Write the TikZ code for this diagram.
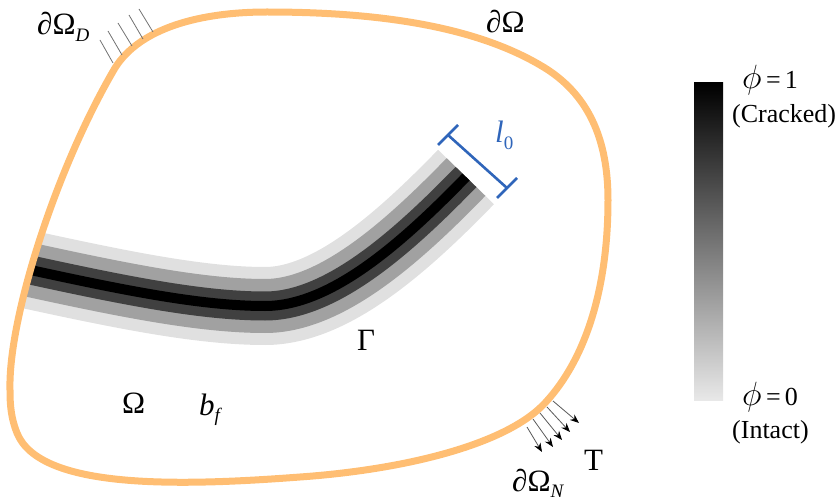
\documentclass[tikz,border=0pt]{standalone}
\usepackage[no-math]{fontspec}
\setmainfont{Liberation Serif}
\usepackage{graphicx}
\usetikzlibrary{arrows.meta,calc}
\definecolor{bnd}{RGB}{255,190,115}
\definecolor{lblue}{RGB}{47,101,186}
\newcommand{\mysub}[1]{\raisebox{-0.45ex}{\fontsize{19}{19}\selectfont #1}}
\newcommand{\myphi}{\scalebox{1.35}{$\phi$}}
\newcommand{\bndpath}{(10,390) .. controls (8,320) and (55,170) .. (115,68)
  .. controls (140,28) and (200,12) .. (267,12)
  .. controls (370,12) and (470,24) .. (540,65)
  .. controls (589,93) and (608,140) .. (608,200)
  .. controls (608,290) and (585,360) .. (545,403)
  .. controls (505,446) and (400,470) .. (300,477)
  .. controls (180,486) and (40,490) .. (17,433)
  .. controls (11,418) and (10,405) .. (10,390) -- cycle}
\begin{document}
\begin{tikzpicture}[x=1pt,y=-1pt,
  lbl/.style={inner sep=0pt, anchor=base west, font=\fontsize{31}{34}\selectfont},
  bar/.style={inner sep=0pt, anchor=base west, font=\fontsize{26}{30}\selectfont},
  hatch/.style={draw=black!55, line width=0.8pt},
  trac/.style={draw=black!65, line width=0.8pt, -{Stealth[length=9pt,width=7pt,black]}},
  bracket/.style={draw=lblue, line width=2.6pt}]
\useasboundingbox (0,0) rectangle (839,500);
% crack band
\begin{scope}
  \clip \bndpath;
  \foreach \w/\c in {78/black!12, 54/black!37, 29/black!75, 10/black}
    \draw[line width=\w pt, color=\c] (-20,259) .. controls (95,284) and (190,306) .. (265,306) .. controls (330,306) and (400,245) .. (466,177);
\end{scope}
% boundary
\draw[bnd, line width=7pt, line join=round] \bndpath;
% Dirichlet hatches
\draw[hatch] (100,40) -- (113,63);
\draw[hatch] (108,31) -- (122,55);
\draw[hatch] (118,23) -- (132,46);
\draw[hatch] (129,15) -- (143,39);
\draw[hatch] (139,9) -- (153,32);
% traction arrows
\draw[trac] (553,401) -- (579,423);
\draw[trac] (547,407) -- (570,432);
\draw[trac] (540,413) -- (562,440);
\draw[trac] (533,419) -- (553,447);
\draw[trac] (527,427) -- (542,452);
% length bracket
\coordinate (b1) at (448,135);
\coordinate (b2) at (507,188);
\draw[bracket] (b1) -- (b2);
\draw[bracket] ($(b1)+(-10,10)$) -- ($(b1)+(10,-10)$);
\draw[bracket] ($(b2)+(-10,10)$) -- ($(b2)+(10,-10)$);
% colour bar
\shade[top color=black, middle color=black!58, bottom color=black!9] (694,83) rectangle (723,400);
% labels
\node[lbl] (dOD) at (37,35) {∂Ω\mysub{\textit{D}}};
\node[lbl] (dO) at (486,33) {∂Ω};
\node[lbl, text=lblue] (l0) at (495,143) {\textit{l}\mysub{0}};
\node[lbl] (G) at (357,350) {Γ};
\node[lbl] (Om) at (122,413) {Ω};
\node[lbl] (bf) at (199,415) {\textit{b}\mysub{\textit{f}}};
\node[lbl] (T) at (584,470) {T};
\node[lbl] (dON) at (512,491) {∂Ω\mysub{\textit{N}}};
\node[bar] (p1) at (742,89) {\myphi\,=\,1};
\node[bar] (cr) at (732,123) {(Cracked)};
\node[bar] (p0) at (742,405) {\myphi\,=\,0};
\node[bar] (in) at (732,438) {(Intact)};
\end{tikzpicture}
\end{document}
